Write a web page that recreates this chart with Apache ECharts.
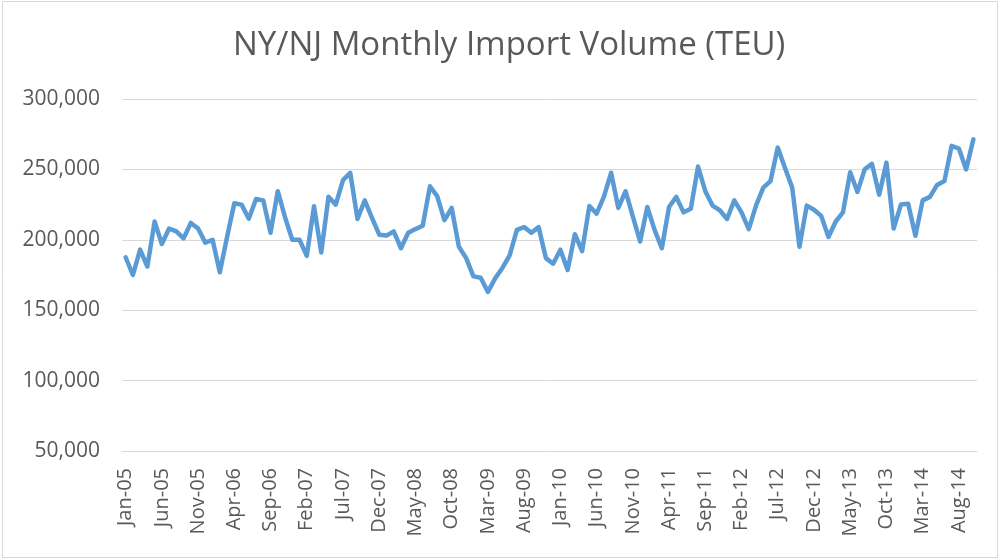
<!DOCTYPE html>
<html>
<head>
<meta charset="utf-8">
<script src="https://cdn.jsdelivr.net/npm/echarts@6/dist/echarts.min.js"></script>
<style>
html, body { margin: 0; padding: 0; background: #fff; }
#chart { width: 998px; height: 559px; }
</style>
</head>
<body>
<div id="chart"></div>
<script>
// month names and years used to build category labels (Jan-05 .. Oct-14)
const monthNames = ['Jan','Feb','Mar','Apr','May','Jun','Jul','Aug','Sep','Oct','Nov','Dec'];
const years = ['05','06','07','08','09','10','11','12','13','14'];
const lastMonthCount = 10; // 2014 runs to Oct

const categories = [];
years.forEach(function (yr, yi) {
    const n = yi === years.length - 1 ? lastMonthCount : 12;
    for (let m = 0; m < n; m++) categories.push(monthNames[m] + '-' + yr);
});

// monthly import volume in TEU
const teu2005 = [187600, 175000, 193000, 181000, 213000, 197000, 208000, 206000, 201000, 212000, 208000, 198000];
const teu2006 = [200000, 177000, 202000, 226000, 225000, 215000, 229000, 228000, 205000, 234500, 216000, 200000];
const teu2007 = [200000, 188600, 223800, 191000, 230500, 225000, 242400, 247600, 214800, 228000, 215500, 203600];
const teu2008 = [203000, 206000, 194000, 205000, 207600, 210000, 238000, 231000, 214000, 222600, 195000, 187000];
const teu2009 = [174000, 173000, 163000, 172600, 180000, 189000, 207000, 209000, 205000, 209000, 187000, 183000];
const teu2010 = [193000, 178600, 204000, 192000, 224000, 218600, 230500, 247600, 222600, 234500, 216700, 198800];
const teu2011 = [223300, 207000, 194000, 223300, 230500, 219500, 222000, 252000, 234500, 224300, 221000, 214800];
const teu2012 = [228000, 219500, 207600, 224300, 237000, 241700, 265500, 251000, 237000, 195000, 224300, 221400];
const teu2013 = [217000, 202000, 213000, 219500, 248000, 234000, 250000, 254000, 232000, 254800, 208000, 225000];
const teu2014 = [225600, 202900, 228000, 230500, 239000, 241700, 266700, 264800, 250000, 271400];

const volume = [].concat(teu2005, teu2006, teu2007, teu2008, teu2009,
                         teu2010, teu2011, teu2012, teu2013, teu2014);

const yMin = 50000;
const yMax = 300000;
const yStep = 50000;

const chart = echarts.init(document.getElementById('chart'));
const option = {
    backgroundColor: '#fff',
    animation: false,
    textStyle: { fontFamily: 'Open Sans' },
    title: {
        text: 'NY/NJ Monthly Import Volume (TEU)',
        left: 228,
        top: 24,
        textStyle: {
            color: '#595959',
            fontSize: 33,
            fontWeight: 'normal',
            fontFamily: 'Open Sans'
        }
    },
    graphic: [{
        type: 'rect',
        shape: { x: 2.5, y: 1.5, width: 995, height: 556 },
        style: { fill: 'none', stroke: '#d9d9d9', lineWidth: 1 },
        silent: true
    }],
    grid: { left: 122, right: 21, top: 99, bottom: 108, containLabel: false },
    xAxis: {
        type: 'category',
        data: categories,
        boundaryGap: true,
        axisLine: { lineStyle: { color: '#d9d9d9', width: 1 } },
        axisTick: { show: false },
        axisLabel: {
            interval: 4,
            rotate: 90,
            margin: 17,
            color: '#595959',
            fontSize: 20,
            fontFamily: 'Open Sans'
        }
    },
    yAxis: {
        type: 'value',
        min: yMin,
        max: yMax,
        interval: yStep,
        axisLine: { show: false },
        axisTick: { show: false },
        splitLine: { lineStyle: { color: '#d9d9d9', width: 1 } },
        axisLabel: {
            margin: 22,
            color: '#595959',
            fontSize: 21,
            fontFamily: 'Open Sans',
            formatter: function (v) { return v.toLocaleString('en-US'); }
        }
    },
    series: [{
        name: 'TEU',
        type: 'line',
        data: volume,
        symbol: 'none',
        lineStyle: { color: '#5b9bd5', width: 4.5, join: 'round', cap: 'round' }
    }]
};
chart.setOption(option);
</script>
</body>
</html>
